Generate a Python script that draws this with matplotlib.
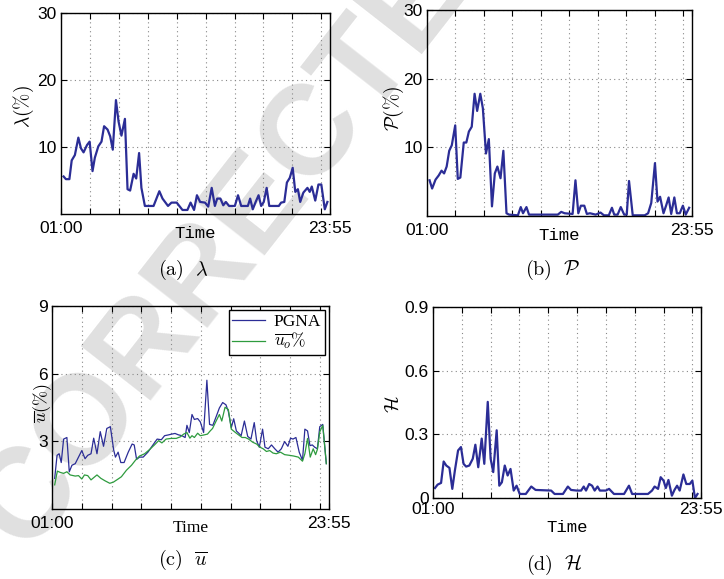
import numpy as np
import matplotlib
matplotlib.use("Agg")
import matplotlib.pyplot as plt

plt.rcParams['mathtext.fontset'] = 'cm'
plt.rcParams['font.family'] = ['Liberation Sans', 'DejaVu Sans']

# ---- data (time slot index, value) ----
t_lam = [0.9, 1.7, 2.9, 3.7, 4.8, 6.0, 6.9, 7.8, 9.0, 9.9,
         10.9, 11.7, 12.9, 14.0, 14.9, 16.1, 17.0, 17.9, 19.0, 19.9,
         20.9, 22.1, 23.0, 23.9, 25.1, 26.0, 27.0, 27.8, 29.0, 32.0,
         34.0, 35.1, 37.0, 38.2, 40.0, 42.0, 43.7, 44.8, 46.0, 47.0,
         48.1, 49.8, 50.9, 52.1, 53.2, 54.0, 55.1, 56.1, 57.0, 58.1,
         60.1, 61.2, 62.3, 64.6, 65.4, 66.3, 67.3, 68.3, 69.2, 70.1,
         71.1, 72.0, 75.3, 76.1, 77.2, 78.1, 79.1, 80.1, 81.0, 81.9,
         82.7, 83.8, 85.2, 86.0, 86.7, 87.9, 89.0, 90.0, 91.2, 92.1]
lam = [5.6, 5.2, 5.2, 8.0, 8.8, 11.4, 9.8, 9.2, 10.3, 10.8,
       6.4, 8.4, 10.1, 10.8, 13.1, 12.6, 11.6, 9.6, 17.0, 13.8,
       11.7, 14.2, 3.7, 3.5, 6.0, 5.3, 9.1, 3.9, 1.2, 1.2,
       3.4, 2.3, 1.2, 1.7, 1.7, 0.6, 0.6, 1.7, 0.6, 2.8,
       1.8, 1.7, 1.1, 3.9, 1.2, 2.3, 2.3, 1.3, 1.8, 1.2,
       1.2, 2.8, 1.2, 1.2, 2.3, 0.7, 1.8, 2.8, 1.2, 1.8,
       3.9, 1.2, 1.2, 1.7, 1.8, 4.7, 5.4, 6.9, 3.3, 3.7,
       1.8, 3.2, 3.9, 3.3, 4.1, 2.0, 4.4, 4.4, 0.7, 1.8]

t_p = [0.9, 1.8, 3.0, 4.1, 5.1, 6.0, 6.9, 7.8, 8.7, 9.9,
       10.8, 11.7, 12.9, 13.8, 14.7, 15.7, 16.7, 17.6, 18.7, 19.6,
       20.7, 21.7, 22.8, 23.8, 24.7, 25.8, 26.8, 27.9, 28.8, 31.9,
       32.9, 33.7, 34.9, 35.8, 45.9, 47.1, 48.3, 51.1, 52.1, 53.1,
       54.0, 55.2, 56.1, 57.2, 59.2, 60.9, 62.1, 63.8, 64.9, 65.7,
       66.9, 68.0, 69.2, 70.1, 70.9, 72.2, 76.4, 77.6, 78.7, 80.0,
       80.9, 81.8, 83.0, 83.9, 84.8, 85.7, 86.8, 87.7, 88.7, 89.8,
       90.8, 92.0]
p_val = [5.2, 4.0, 5.3, 5.9, 6.6, 6.2, 7.2, 9.5, 10.3, 13.2,
         5.4, 5.6, 10.7, 10.7, 12.3, 13.0, 17.8, 15.3, 17.8, 15.7,
         9.1, 11.2, 1.4, 6.2, 7.2, 5.5, 9.5, 0.4, 0.2, 0.1,
         1.3, 0.4, 1.3, 0.2, 0.2, 0.6, 0.4, 0.3, 5.2, 0.4,
         1.5, 1.5, 0.3, 0.4, 0.2, 0.5, 0.1, 0.1, 1.2, 0.2,
         0.2, 1.3, 0.2, 0.2, 5.1, 0.1, 0.1, 0.4, 1.9, 7.7,
         2.1, 2.8, 0.4, 1.5, 2.7, 0.3, 2.7, 0.4, 0.4, 1.5,
         0.2, 1.2]

t_pgna = [0.9, 1.7, 2.4, 3.1, 3.9, 5.0, 5.8, 6.7, 7.8, 8.9,
          10.0, 11.1, 12.0, 13.1, 14.0, 15.1, 16.2, 17.3, 18.4, 19.6,
          20.7, 21.3, 22.2, 23.1, 24.2, 25.6, 26.9, 27.6, 28.4, 29.4,
          30.6, 32.2, 33.9, 35.3, 36.7, 37.8, 38.9, 40.2, 41.3, 42.4,
          43.6, 44.7, 45.3, 46.1, 47.0, 47.8, 48.9, 49.8, 50.9, 52.0,
          52.9, 54.0, 55.1, 56.2, 57.3, 58.4, 59.2, 60.2, 61.0, 61.9,
          62.7, 63.5, 64.6, 65.7, 66.8, 67.9, 68.7, 69.6, 70.7, 71.5,
          72.6, 73.7, 74.8, 75.9, 77.0, 78.1, 79.2, 80.1, 80.9, 81.9,
          83.0, 84.1, 84.9, 85.8, 86.6, 87.4, 88.2, 89.1, 89.9, 90.9,
          92.1]
pgna = [1.36, 2.38, 2.45, 2.06, 3.10, 3.17, 1.65, 1.94, 2.01, 2.30,
        2.59, 2.23, 2.38, 2.45, 3.14, 2.45, 3.43, 2.78, 3.57, 3.65,
        2.62, 2.30, 2.52, 2.06, 2.06, 2.52, 2.88, 2.84, 2.20, 2.30,
        2.30, 2.52, 2.84, 3.10, 3.07, 3.25, 3.28, 3.32, 3.35, 3.29,
        3.25, 3.17, 3.71, 3.39, 4.19, 3.97, 4.01, 3.86, 3.39, 5.71,
        3.75, 3.71, 4.09, 4.48, 4.72, 4.62, 4.33, 3.61, 4.00, 3.46,
        3.36, 3.25, 3.90, 3.22, 3.10, 3.83, 3.03, 2.74, 3.54, 2.74,
        2.67, 2.84, 2.67, 2.52, 2.67, 2.99, 2.78, 3.14, 3.10, 3.17,
        2.52, 2.16, 3.54, 3.46, 2.81, 2.84, 2.74, 2.67, 3.65, 3.75,
        2.01]

t_uo = [0.9, 1.8, 2.8, 3.9, 5.0, 6.1, 7.8, 8.9, 10.0, 10.9,
        12.0, 13.1, 14.0, 15.1, 16.4, 17.8, 19.4, 20.6, 22.2, 23.3,
        25.0, 26.7, 28.0, 29.4, 31.1, 32.8, 34.4, 35.8, 36.9, 38.3,
        40.0, 41.7, 43.1, 44.2, 45.3, 46.3, 47.0, 47.8, 48.9, 49.8,
        50.9, 52.2, 53.1, 53.9, 55.1, 56.2, 57.0, 58.1, 59.2, 60.2,
        61.6, 62.7, 63.8, 64.9, 66.0, 67.4, 68.7, 69.8, 70.9, 72.0,
        73.1, 74.2, 75.3, 76.7, 78.1, 79.7, 81.1, 82.7, 84.1, 84.9,
        85.8, 86.7, 87.7, 88.5, 89.1, 89.9, 90.9, 92.1]
uo = [1.07, 1.68, 1.62, 1.58, 1.65, 1.51, 1.46, 1.48, 1.33, 1.51,
      1.48, 1.29, 1.39, 1.51, 1.36, 1.25, 1.14, 1.19, 1.33, 1.43,
      1.72, 1.94, 2.16, 2.35, 2.45, 2.64, 2.84, 3.03, 2.93, 3.10,
      3.13, 3.13, 3.20, 3.32, 3.39, 3.14, 3.25, 3.17, 3.36, 3.25,
      3.28, 3.32, 3.46, 3.57, 3.90, 4.19, 3.90, 4.51, 4.41, 3.54,
      3.39, 3.28, 3.17, 3.17, 3.10, 2.96, 2.88, 2.74, 2.67, 2.55,
      2.59, 2.48, 2.45, 2.52, 2.41, 2.38, 2.35, 2.30, 2.12, 2.45,
      3.13, 2.30, 2.67, 2.41, 2.64, 3.42, 3.71, 2.01]

t_h = [0.7, 1.6, 2.8, 3.7, 4.6, 5.7, 6.7, 7.6, 8.7, 9.7,
       10.6, 11.5, 12.6, 13.8, 14.7, 15.7, 16.9, 17.8, 19.0, 20.0,
       20.9, 22.1, 23.0, 23.9, 24.9, 25.9, 26.9, 28.0, 29.0, 30.1,
       32.2, 34.1, 35.6, 41.0, 42.2, 45.1, 46.8, 47.9, 49.9, 51.4,
       52.3, 53.1, 54.2, 55.2, 56.1, 57.1, 57.9, 60.0, 61.1, 62.8,
       66.3, 68.0, 69.1, 74.6, 76.0, 76.9, 78.1, 79.0, 80.0, 80.8,
       81.7, 82.9, 83.8, 84.7, 85.6, 86.9, 87.9, 89.1, 90.0, 90.9,
       91.8]
h_val = [0.047, 0.063, 0.071, 0.172, 0.153, 0.142, 0.043, 0.130, 0.224, 0.240,
         0.161, 0.148, 0.153, 0.185, 0.251, 0.145, 0.280, 0.161, 0.453, 0.185,
         0.122, 0.319, 0.058, 0.074, 0.153, 0.106, 0.137, 0.035, 0.058, 0.019,
         0.019, 0.054, 0.038, 0.035, 0.019, 0.019, 0.054, 0.038, 0.035, 0.035,
         0.054, 0.035, 0.066, 0.058, 0.035, 0.054, 0.035, 0.035, 0.043, 0.019,
         0.019, 0.058, 0.019, 0.019, 0.035, 0.054, 0.043, 0.098, 0.082, 0.047,
         0.085, 0.011, 0.038, 0.058, 0.035, 0.111, 0.066, 0.066, 0.082, 0.000,
         0.019]

x_end = 93
x_labels = ['01:00', '23:55']
grid_x = [10, 20, 30, 40, 50, 60, 70, 80, 90]

BLUE = '#2b2d96'
GREEN = '#2e9b3e'
W, H = 724, 579

fig = plt.figure(figsize=(7.24, 5.79), dpi=100)


def px_axes(l, t, r, b):
    return fig.add_axes([l / W, 1 - b / H, (r - l) / W, (b - t) / H])


def style(ax, yticks, ylim, time_font, time_off, xpad=5):
    ax.set_facecolor('none')
    ax.set_xlim(0, x_end)
    ax.set_ylim(*ylim)
    ax.set_xticks([0, x_end])
    ax.set_xticklabels(x_labels)
    ax.set_xticks(grid_x, minor=True)
    ax.set_yticks(yticks)
    ax.grid(which='minor', axis='x', linestyle=(0, (1, 3)), color='#888888', lw=0.8)
    ax.grid(which='major', axis='y', linestyle=(0, (1, 3)), color='#888888', lw=0.8)
    ax.tick_params(which='both', direction='in', top=True, right=True,
                   length=4, width=0.8, labelsize=12.5)
    ax.tick_params(axis='x', pad=xpad)
    ax.tick_params(axis='y', pad=3)
    for s in ax.spines.values():
        s.set_linewidth(1.0)
    ax.text(0.5, time_off, 'Time', transform=ax.transAxes, ha='center',
            va='center', fontsize=12.5, family=time_font)


# watermark
fig.text(250 / W, 1 - 214 / H, 'CORRECTED', rotation=52, fontsize=92,
         color='#e0e0e0', ha='center', va='center', rotation_mode='anchor',
         zorder=-5, family='Liberation Sans', fontweight='bold')

# (a)
ax = px_axes(61, 13, 330, 214)
ax.plot(t_lam, lam, color=BLUE, lw=1.6)
style(ax, [10, 20, 30], (0, 30), 'Liberation Mono', -19 / 201)
fig.text(24 / W, 1 - 107 / H, r'$\lambda(\%)$', rotation=90, ha='center', va='center', fontsize=14)
fig.text(183 / W, 1 - 270 / H, r'$\mathrm{(a)}\ \ \lambda$', ha='center', va='center', fontsize=14.5)

# (b)
ax = px_axes(427, 10, 692, 216)
ax.plot(t_p, p_val, color=BLUE, lw=1.6)
style(ax, [10, 20, 30], (0, 30), 'Liberation Mono', -19 / 206)
fig.text(394 / W, 1 - 108 / H, r'$\mathcal{P}(\%)$', rotation=90, ha='center', va='center', fontsize=14)
fig.text(553 / W, 1 - 270 / H, r'$\mathrm{(b)}\ \ \mathcal{P}$', ha='center', va='center', fontsize=14.5)

# (c)
ax = px_axes(52, 306, 329, 509)
ax.plot(t_pgna, pgna, color=BLUE, lw=0.9, label='PGNA')
ax.plot(t_uo, uo, color=GREEN, lw=0.9, label=r'$\overline{u_o}\%$')
style(ax, [3, 6, 9], (0, 9), 'Liberation Serif', -19 / 203)
leg = ax.legend(loc='upper right', fancybox=False, framealpha=1,
                edgecolor='black', borderaxespad=0.25, handlelength=1.9,
                handletextpad=0.5, labelspacing=0.05, borderpad=0.2,
                prop={'family': 'Liberation Serif', 'size': 12.5})
leg.get_frame().set_linewidth(1.0)
fig.text(43 / W, 1 - 403 / H, r'$\overline{u}(\%)$', rotation=90, ha='center', va='center', fontsize=13)
fig.text(183 / W, 1 - 560 / H, r'$\mathrm{(c)}\ \ \overline{u}$', ha='center', va='center', fontsize=14.5)

# (d)
ax = px_axes(433, 307, 701, 498)
ax.plot(t_h, h_val, color=BLUE, lw=1.6)
style(ax, [0, 0.3, 0.6, 0.9], (0, 0.9), 'Liberation Mono', -30 / 191, xpad=3)
ax.set_yticklabels(['0', '0.3', '0.6', '0.9'])
fig.text(394 / W, 1 - 404 / H, r'$\mathcal{H}$', rotation=90, ha='center', va='center', fontsize=14)
fig.text(554 / W, 1 - 565 / H, r'$\mathrm{(d)}\ \ \mathcal{H}$', ha='center', va='center', fontsize=14.5)

fig.savefig('out.png', dpi=100)
